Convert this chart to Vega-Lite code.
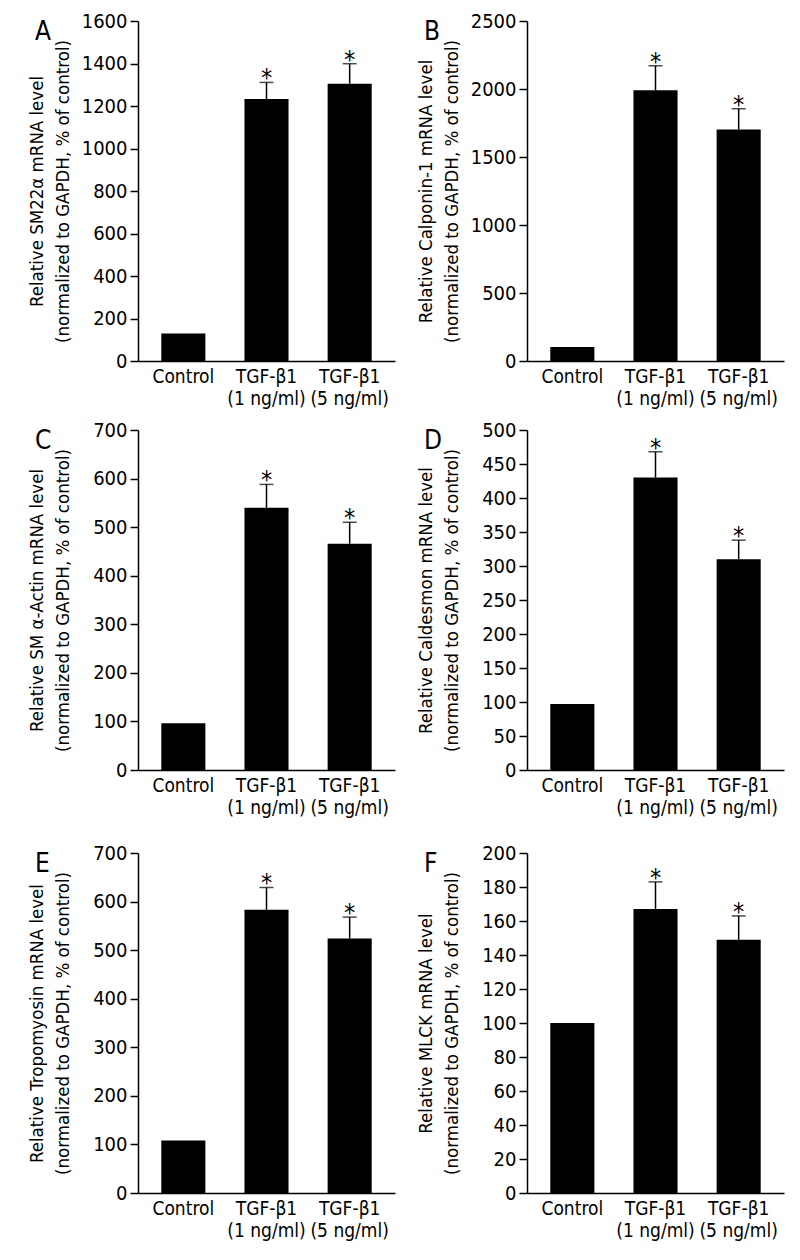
{
  "$schema": "https://vega.github.io/schema/vega-lite/v6.json",
  "background": "white",
  "padding": {"left": 26, "top": 11, "right": 5, "bottom": 5},
  "datasets": {
    "d": [
      {"panel": "A", "group": "Control", "value": 130, "upper": null},
      {"panel": "A", "group": "TGF-β1 (1 ng/ml)", "value": 1233, "upper": 1311},
      {"panel": "A", "group": "TGF-β1 (5 ng/ml)", "value": 1305, "upper": 1399},
      {"panel": "B", "group": "Control", "value": 103, "upper": null},
      {"panel": "B", "group": "TGF-β1 (1 ng/ml)", "value": 1990, "upper": 2171},
      {"panel": "B", "group": "TGF-β1 (5 ng/ml)", "value": 1703, "upper": 1855},
      {"panel": "C", "group": "Control", "value": 96, "upper": null},
      {"panel": "C", "group": "TGF-β1 (1 ng/ml)", "value": 540, "upper": 588},
      {"panel": "C", "group": "TGF-β1 (5 ng/ml)", "value": 466, "upper": 510},
      {"panel": "D", "group": "Control", "value": 97, "upper": null},
      {"panel": "D", "group": "TGF-β1 (1 ng/ml)", "value": 430, "upper": 468},
      {"panel": "D", "group": "TGF-β1 (5 ng/ml)", "value": 310, "upper": 338},
      {"panel": "E", "group": "Control", "value": 108, "upper": null},
      {"panel": "E", "group": "TGF-β1 (1 ng/ml)", "value": 583, "upper": 629},
      {"panel": "E", "group": "TGF-β1 (5 ng/ml)", "value": 524, "upper": 568},
      {"panel": "F", "group": "Control", "value": 100, "upper": null},
      {"panel": "F", "group": "TGF-β1 (1 ng/ml)", "value": 167, "upper": 183},
      {"panel": "F", "group": "TGF-β1 (5 ng/ml)", "value": 149, "upper": 163}
    ]
  },
  "spacing": 26,
  "vconcat": [
    {
      "spacing": 12,
      "vconcat": [
        {
          "spacing": 20,
          "hconcat": [
            {
              "title": {"text": "A"},
              "width": 257, "height": 340,
              "data": {"name": "d"},
              "transform": [{"filter": "datum.panel == 'A'"}],
              "encoding": {"x": {"field": "group", "type": "nominal", "sort": null, "scale": {"paddingInner": 0.47, "paddingOuter": 0.28}, "axis": {"title": null, "ticks": false, "labelAngle": 0, "labelPadding": 6, "labelLineHeight": 22, "labelFontSize": 19, "labelExpr": "indexof(datum.value, ' (') > 0 ? [substring(datum.value, 0, indexof(datum.value, ' (')), substring(datum.value, indexof(datum.value, ' (') + 1)] : datum.value"}}},
              "layer": [
                {"mark": {"type": "bar", "color": "black"}, "encoding": {"y": {"field": "value", "type": "quantitative", "scale": {"domain": [0, 1600], "nice": false}, "axis": {"values": [0, 200, 400, 600, 800, 1000, 1200, 1400, 1600], "format": "d", "title": ["Relative SM22α mRNA level", "(normalized to GAPDH, % of control)"]}}}},
                {"transform": [{"filter": "datum.upper != null"}], "mark": {"type": "rule", "color": "black", "strokeWidth": 1.5}, "encoding": {"y": {"field": "value", "type": "quantitative", "axis": {"values": [0, 200, 400, 600, 800, 1000, 1200, 1400, 1600], "format": "d", "title": ["Relative SM22α mRNA level", "(normalized to GAPDH, % of control)"]}}, "y2": {"field": "upper"}}},
                {"transform": [{"filter": "datum.upper != null"}], "mark": {"type": "tick", "color": "black", "size": 14, "thickness": 1.5, "orient": "horizontal"}, "encoding": {"y": {"field": "upper", "type": "quantitative", "axis": {"values": [0, 200, 400, 600, 800, 1000, 1200, 1400, 1600], "format": "d", "title": ["Relative SM22α mRNA level", "(normalized to GAPDH, % of control)"]}}}},
                {"transform": [{"filter": "datum.upper != null"}], "mark": {"type": "text", "text": "*", "fontSize": 25, "baseline": "alphabetic", "dy": 4, "color": "black"}, "encoding": {"y": {"field": "upper", "type": "quantitative", "axis": {"values": [0, 200, 400, 600, 800, 1000, 1200, 1400, 1600], "format": "d", "title": ["Relative SM22α mRNA level", "(normalized to GAPDH, % of control)"]}}}}
              ]
            },
            {
              "title": {"text": "B"},
              "width": 257, "height": 340,
              "data": {"name": "d"},
              "transform": [{"filter": "datum.panel == 'B'"}],
              "encoding": {"x": {"field": "group", "type": "nominal", "sort": null, "scale": {"paddingInner": 0.47, "paddingOuter": 0.28}, "axis": {"title": null, "ticks": false, "labelAngle": 0, "labelPadding": 6, "labelLineHeight": 22, "labelFontSize": 19, "labelExpr": "indexof(datum.value, ' (') > 0 ? [substring(datum.value, 0, indexof(datum.value, ' (')), substring(datum.value, indexof(datum.value, ' (') + 1)] : datum.value"}}},
              "layer": [
                {"mark": {"type": "bar", "color": "black"}, "encoding": {"y": {"field": "value", "type": "quantitative", "scale": {"domain": [0, 2500], "nice": false}, "axis": {"values": [0, 500, 1000, 1500, 2000, 2500], "format": "d", "title": ["Relative Calponin-1 mRNA level", "(normalized to GAPDH, % of control)"]}}}},
                {"transform": [{"filter": "datum.upper != null"}], "mark": {"type": "rule", "color": "black", "strokeWidth": 1.5}, "encoding": {"y": {"field": "value", "type": "quantitative", "axis": {"values": [0, 500, 1000, 1500, 2000, 2500], "format": "d", "title": ["Relative Calponin-1 mRNA level", "(normalized to GAPDH, % of control)"]}}, "y2": {"field": "upper"}}},
                {"transform": [{"filter": "datum.upper != null"}], "mark": {"type": "tick", "color": "black", "size": 14, "thickness": 1.5, "orient": "horizontal"}, "encoding": {"y": {"field": "upper", "type": "quantitative", "axis": {"values": [0, 500, 1000, 1500, 2000, 2500], "format": "d", "title": ["Relative Calponin-1 mRNA level", "(normalized to GAPDH, % of control)"]}}}},
                {"transform": [{"filter": "datum.upper != null"}], "mark": {"type": "text", "text": "*", "fontSize": 25, "baseline": "alphabetic", "dy": 4, "color": "black"}, "encoding": {"y": {"field": "upper", "type": "quantitative", "axis": {"values": [0, 500, 1000, 1500, 2000, 2500], "format": "d", "title": ["Relative Calponin-1 mRNA level", "(normalized to GAPDH, % of control)"]}}}}
              ]
            }
          ]
        },
        {
          "spacing": 20,
          "hconcat": [
            {
              "title": {"text": "C"},
              "width": 257, "height": 340,
              "data": {"name": "d"},
              "transform": [{"filter": "datum.panel == 'C'"}],
              "encoding": {"x": {"field": "group", "type": "nominal", "sort": null, "scale": {"paddingInner": 0.47, "paddingOuter": 0.28}, "axis": {"title": null, "ticks": false, "labelAngle": 0, "labelPadding": 6, "labelLineHeight": 22, "labelFontSize": 19, "labelExpr": "indexof(datum.value, ' (') > 0 ? [substring(datum.value, 0, indexof(datum.value, ' (')), substring(datum.value, indexof(datum.value, ' (') + 1)] : datum.value"}}},
              "layer": [
                {"mark": {"type": "bar", "color": "black"}, "encoding": {"y": {"field": "value", "type": "quantitative", "scale": {"domain": [0, 700], "nice": false}, "axis": {"values": [0, 100, 200, 300, 400, 500, 600, 700], "format": "d", "title": ["Relative SM α-Actin mRNA level", "(normalized to GAPDH, % of control)"]}}}},
                {"transform": [{"filter": "datum.upper != null"}], "mark": {"type": "rule", "color": "black", "strokeWidth": 1.5}, "encoding": {"y": {"field": "value", "type": "quantitative", "axis": {"values": [0, 100, 200, 300, 400, 500, 600, 700], "format": "d", "title": ["Relative SM α-Actin mRNA level", "(normalized to GAPDH, % of control)"]}}, "y2": {"field": "upper"}}},
                {"transform": [{"filter": "datum.upper != null"}], "mark": {"type": "tick", "color": "black", "size": 14, "thickness": 1.5, "orient": "horizontal"}, "encoding": {"y": {"field": "upper", "type": "quantitative", "axis": {"values": [0, 100, 200, 300, 400, 500, 600, 700], "format": "d", "title": ["Relative SM α-Actin mRNA level", "(normalized to GAPDH, % of control)"]}}}},
                {"transform": [{"filter": "datum.upper != null"}], "mark": {"type": "text", "text": "*", "fontSize": 25, "baseline": "alphabetic", "dy": 4, "color": "black"}, "encoding": {"y": {"field": "upper", "type": "quantitative", "axis": {"values": [0, 100, 200, 300, 400, 500, 600, 700], "format": "d", "title": ["Relative SM α-Actin mRNA level", "(normalized to GAPDH, % of control)"]}}}}
              ]
            },
            {
              "title": {"text": "D"},
              "width": 257, "height": 340,
              "data": {"name": "d"},
              "transform": [{"filter": "datum.panel == 'D'"}],
              "encoding": {"x": {"field": "group", "type": "nominal", "sort": null, "scale": {"paddingInner": 0.47, "paddingOuter": 0.28}, "axis": {"title": null, "ticks": false, "labelAngle": 0, "labelPadding": 6, "labelLineHeight": 22, "labelFontSize": 19, "labelExpr": "indexof(datum.value, ' (') > 0 ? [substring(datum.value, 0, indexof(datum.value, ' (')), substring(datum.value, indexof(datum.value, ' (') + 1)] : datum.value"}}},
              "layer": [
                {"mark": {"type": "bar", "color": "black"}, "encoding": {"y": {"field": "value", "type": "quantitative", "scale": {"domain": [0, 500], "nice": false}, "axis": {"values": [0, 50, 100, 150, 200, 250, 300, 350, 400, 450, 500], "format": "d", "title": ["Relative Caldesmon mRNA level", "(normalized to GAPDH, % of control)"]}}}},
                {"transform": [{"filter": "datum.upper != null"}], "mark": {"type": "rule", "color": "black", "strokeWidth": 1.5}, "encoding": {"y": {"field": "value", "type": "quantitative", "axis": {"values": [0, 50, 100, 150, 200, 250, 300, 350, 400, 450, 500], "format": "d", "title": ["Relative Caldesmon mRNA level", "(normalized to GAPDH, % of control)"]}}, "y2": {"field": "upper"}}},
                {"transform": [{"filter": "datum.upper != null"}], "mark": {"type": "tick", "color": "black", "size": 14, "thickness": 1.5, "orient": "horizontal"}, "encoding": {"y": {"field": "upper", "type": "quantitative", "axis": {"values": [0, 50, 100, 150, 200, 250, 300, 350, 400, 450, 500], "format": "d", "title": ["Relative Caldesmon mRNA level", "(normalized to GAPDH, % of control)"]}}}},
                {"transform": [{"filter": "datum.upper != null"}], "mark": {"type": "text", "text": "*", "fontSize": 25, "baseline": "alphabetic", "dy": 4, "color": "black"}, "encoding": {"y": {"field": "upper", "type": "quantitative", "axis": {"values": [0, 50, 100, 150, 200, 250, 300, 350, 400, 450, 500], "format": "d", "title": ["Relative Caldesmon mRNA level", "(normalized to GAPDH, % of control)"]}}}}
              ]
            }
          ]
        }
      ]
    },
    {
      "spacing": 20,
      "hconcat": [
        {
          "title": {"text": "E"},
          "width": 257, "height": 340,
          "data": {"name": "d"},
          "transform": [{"filter": "datum.panel == 'E'"}],
          "encoding": {"x": {"field": "group", "type": "nominal", "sort": null, "scale": {"paddingInner": 0.47, "paddingOuter": 0.28}, "axis": {"title": null, "ticks": false, "labelAngle": 0, "labelPadding": 6, "labelLineHeight": 22, "labelFontSize": 19, "labelExpr": "indexof(datum.value, ' (') > 0 ? [substring(datum.value, 0, indexof(datum.value, ' (')), substring(datum.value, indexof(datum.value, ' (') + 1)] : datum.value"}}},
          "layer": [
            {"mark": {"type": "bar", "color": "black"}, "encoding": {"y": {"field": "value", "type": "quantitative", "scale": {"domain": [0, 700], "nice": false}, "axis": {"values": [0, 100, 200, 300, 400, 500, 600, 700], "format": "d", "title": ["Relative Tropomyosin mRNA level", "(normalized to GAPDH, % of control)"]}}}},
            {"transform": [{"filter": "datum.upper != null"}], "mark": {"type": "rule", "color": "black", "strokeWidth": 1.5}, "encoding": {"y": {"field": "value", "type": "quantitative", "axis": {"values": [0, 100, 200, 300, 400, 500, 600, 700], "format": "d", "title": ["Relative Tropomyosin mRNA level", "(normalized to GAPDH, % of control)"]}}, "y2": {"field": "upper"}}},
            {"transform": [{"filter": "datum.upper != null"}], "mark": {"type": "tick", "color": "black", "size": 14, "thickness": 1.5, "orient": "horizontal"}, "encoding": {"y": {"field": "upper", "type": "quantitative", "axis": {"values": [0, 100, 200, 300, 400, 500, 600, 700], "format": "d", "title": ["Relative Tropomyosin mRNA level", "(normalized to GAPDH, % of control)"]}}}},
            {"transform": [{"filter": "datum.upper != null"}], "mark": {"type": "text", "text": "*", "fontSize": 25, "baseline": "alphabetic", "dy": 4, "color": "black"}, "encoding": {"y": {"field": "upper", "type": "quantitative", "axis": {"values": [0, 100, 200, 300, 400, 500, 600, 700], "format": "d", "title": ["Relative Tropomyosin mRNA level", "(normalized to GAPDH, % of control)"]}}}}
          ]
        },
        {
          "title": {"text": "F"},
          "width": 257, "height": 340,
          "data": {"name": "d"},
          "transform": [{"filter": "datum.panel == 'F'"}],
          "encoding": {"x": {"field": "group", "type": "nominal", "sort": null, "scale": {"paddingInner": 0.47, "paddingOuter": 0.28}, "axis": {"title": null, "ticks": false, "labelAngle": 0, "labelPadding": 6, "labelLineHeight": 22, "labelFontSize": 19, "labelExpr": "indexof(datum.value, ' (') > 0 ? [substring(datum.value, 0, indexof(datum.value, ' (')), substring(datum.value, indexof(datum.value, ' (') + 1)] : datum.value"}}},
          "layer": [
            {"mark": {"type": "bar", "color": "black"}, "encoding": {"y": {"field": "value", "type": "quantitative", "scale": {"domain": [0, 200], "nice": false}, "axis": {"values": [0, 20, 40, 60, 80, 100, 120, 140, 160, 180, 200], "format": "d", "title": ["Relative MLCK mRNA level", "(normalized to GAPDH, % of control)"]}}}},
            {"transform": [{"filter": "datum.upper != null"}], "mark": {"type": "rule", "color": "black", "strokeWidth": 1.5}, "encoding": {"y": {"field": "value", "type": "quantitative", "axis": {"values": [0, 20, 40, 60, 80, 100, 120, 140, 160, 180, 200], "format": "d", "title": ["Relative MLCK mRNA level", "(normalized to GAPDH, % of control)"]}}, "y2": {"field": "upper"}}},
            {"transform": [{"filter": "datum.upper != null"}], "mark": {"type": "tick", "color": "black", "size": 14, "thickness": 1.5, "orient": "horizontal"}, "encoding": {"y": {"field": "upper", "type": "quantitative", "axis": {"values": [0, 20, 40, 60, 80, 100, 120, 140, 160, 180, 200], "format": "d", "title": ["Relative MLCK mRNA level", "(normalized to GAPDH, % of control)"]}}}},
            {"transform": [{"filter": "datum.upper != null"}], "mark": {"type": "text", "text": "*", "fontSize": 25, "baseline": "alphabetic", "dy": 4, "color": "black"}, "encoding": {"y": {"field": "upper", "type": "quantitative", "axis": {"values": [0, 20, 40, 60, 80, 100, 120, 140, 160, 180, 200], "format": "d", "title": ["Relative MLCK mRNA level", "(normalized to GAPDH, % of control)"]}}}}
          ]
        }
      ]
    }
  ],
  "config": {
    "font": "Liberation Sans Narrow, DejaVu Sans Condensed, sans-serif",
    "view": {"stroke": null},
    "title": {"anchor": "start", "frame": "bounds", "fontSize": 26, "fontWeight": "normal", "color": "black", "offset": -34, "baseline": "top", "dx": 8},
    "axis": {"domainColor": "black", "domainWidth": 1.5, "tickColor": "black", "tickWidth": 1.5, "tickSize": 8, "labelColor": "black", "titleColor": "black", "labelFontSize": 20, "titleFontSize": 18.5, "titleFontWeight": "normal", "grid": false, "labelPadding": 3},
    "axisY": {"titleX": -92, "titleY": 170, "titleAlign": "center", "titleBaseline": "bottom", "titleAngle": -90, "titleLineHeight": 26, "labelOverlap": false}
  }
}
